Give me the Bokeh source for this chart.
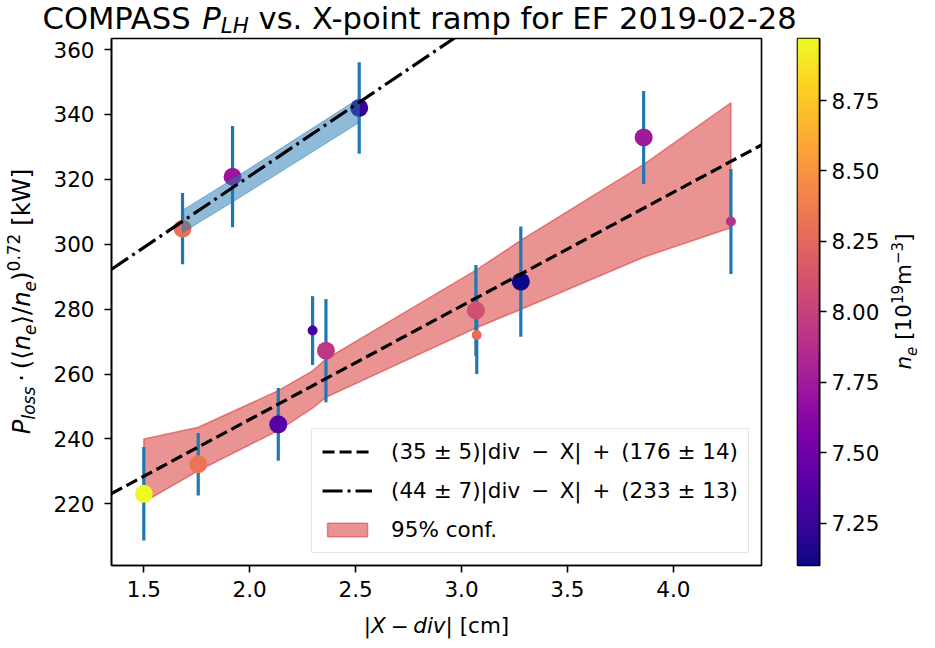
import numpy as np
from bokeh.plotting import figure
from bokeh.models import (ColumnDataSource, LinearColorMapper, Label, Legend, LegendItem,
                          FixedTicker, PrintfTickFormatter, LinearAxis, Range1d)
from bokeh.palettes import Plasma256
from bokeh.layouts import row, column
from bokeh.embed import file_html
from bokeh.resources import INLINE

# ---------------- data ----------------
x_dist = [1.500, 1.683, 1.757, 1.919, 2.135, 2.297, 2.360, 2.517, 3.068, 3.072, 3.280, 3.860, 4.272]
p_loss = [223.1, 304.8, 232.2, 320.8, 244.5, 273.4, 267.2, 342.0, 279.6, 272.0, 288.5, 332.9, 307.0]
p_err = [14.4, 11.0, 9.6, 15.6, 11.2, 10.6, 15.9, 14.1, 14.0, 12.0, 17.0, 14.3, 16.2]
n_e = [8.97, 8.30, 8.32, 7.72, 7.38, 7.31, 7.94, 7.23, 8.09, 8.28, 7.10, 7.75, 7.89]
small_marker = [False, False, False, False, False, True, False, False, False, True, False, False, True]

fit_lo = (35.0, 176.0)   # slope, intercept
fit_hi = (44.0, 233.0)
EN = "\u2002"
label_lo = "(35 ± 5)|div" + EN + "−" + EN + "X|" + EN + "+" + EN + "(176 ± 14)"
label_hi = "(44 ± 7)|div" + EN + "−" + EN + "X|" + EN + "+" + EN + "(233 ± 13)"
label_conf = "95% conf."

band_lo_x = [1.500, 1.757, 2.135, 2.297, 2.360, 3.068, 3.280, 3.860, 4.272]
band_lo_upper = [240.0, 243.6, 254.9, 261.0, 264.6, 292.0, 301.2, 324.6, 343.6]
band_lo_lower = [220.5, 230.2, 242.6, 249.5, 252.8, 274.2, 279.9, 296.0, 305.1]
band_hi_x = [1.683, 1.919, 2.517]
band_hi_upper = [310.5, 320.0, 345.0]
band_hi_lower = [303.6, 313.0, 337.5]

x_ticks = [1.5, 2.0, 2.5, 3.0, 3.5, 4.0]
y_ticks = [220, 240, 260, 280, 300, 320, 340, 360]
cb_ticks = [7.25, 7.50, 7.75, 8.00, 8.25, 8.50, 8.75]
x_lim = (1.3475, 4.4164)
y_lim = (201.0, 363.4)
ne_lim = (7.10, 8.97)

# ---------------- style ----------------
FONT = "DejaVu Sans"
TICK_PX = 21.5
YLAB_PX = 24.3
TITLE_PX = 30.6
BLUE = "#1f77b4"
RED = "#d62728"
ANCHOR_FIX = 0.35   # Label anchor vs. drawn baseline, in em

# DejaVu Sans advance widths (units / 2048)
ADV = {' ': 651, '(': 799, ')': 799, '[': 799, ']': 799, '|': 690, '/': 690, '·': 651,
       '−': 1716, '+': 1716, '±': 1716, '-': 739, '.': 651, '⟨': 799, '⟩': 799,
       'A': 1401, 'C': 1430, 'E': 1294, 'F': 1178, 'H': 1540, 'L': 1141, 'M': 1767,
       'O': 1612, 'P': 1235, 'S': 1300, 'W': 2025, 'X': 1405,
       'a': 1255, 'c': 1126, 'd': 1300, 'e': 1260, 'f': 721, 'i': 569, 'k': 1186,
       'l': 569, 'm': 1995, 'n': 1298, 'o': 1253, 'p': 1300, 'r': 842, 's': 1067,
       't': 803, 'v': 1212}
for d in "0123456789":
    ADV[d] = 1303


def tw(s):
    return sum(ADV.get(c, 1250) for c in s) / 2048.0


def text_panel(w, h):
    f = figure(width=w, height=h, x_range=Range1d(0, w), y_range=Range1d(0, h),
               output_backend="svg", toolbar_location=None,
               x_axis_location=None, y_axis_location=None, min_border=0)
    f.grid.visible = False
    f.outline_line_color = None
    f.border_fill_color = "white"
    f.background_fill_color = "white"
    return f


def add_run(fig, pieces, base, x0, y0, rotated=False):
    """pieces: (text, scale, italic, shift_em, gap_after_em); centred on (x0, y0),
    (x0, y0) being the baseline point in the panel's frame coordinates."""
    total = 0.0
    for t, sc, it, sh, gap in pieces:
        total += tw(t) * base * sc + gap * base
    pos = -total / 2.0
    for t, sc, it, sh, gap in pieces:
        fs = base * sc
        if t:
            up = sh * base + ANCHOR_FIX * fs
            if rotated:
                x, y = x0 - up, y0 + pos
            else:
                x, y = x0 + pos, y0 + up
            fig.add_layout(Label(x=x, y=y, x_units="screen", y_units="screen", text=t,
                                 angle=(np.pi / 2 if rotated else 0.0),
                                 text_font=FONT, text_font_size=f"{fs:.1f}px",
                                 text_font_style=("italic" if it else "normal"),
                                 text_align="left", text_baseline="alphabetic",
                                 text_color="black"))
        pos += tw(t) * fs + gap * base


mapper = LinearColorMapper(palette=Plasma256, low=ne_lim[0], high=ne_lim[1])

# screen layout (pixels)
TOP_H = 37           # title strip
BOT_H = 37           # x-label strip
MID_H = 648 - TOP_H - BOT_H
YL_W = 45            # y-label strip
MAIN_W = 735
CB_W = 102
CBL_W = 935 - YL_W - MAIN_W - CB_W
FR_L, FR_R, FR_T, FR_B = 111, 761, 38, 565   # frame in page pixels
frame_cx = (FR_L + FR_R) / 2.0
frame_cy = (37 + FR_B) / 2.0

# ---------------- main figure ----------------
p = figure(width=MAIN_W, height=MID_H, x_range=Range1d(*x_lim), y_range=Range1d(*y_lim),
           output_backend="svg", toolbar_location=None,
           min_border_left=FR_L - YL_W, min_border_right=YL_W + MAIN_W - FR_R,
           min_border_top=FR_T - TOP_H, min_border_bottom=TOP_H + MID_H - FR_B)
p.grid.visible = False
p.outline_line_color = "black"
p.outline_line_width = 1.6
p.background_fill_color = "white"
p.border_fill_color = "white"

for ax in (p.xaxis[0], p.yaxis[0]):
    ax.axis_line_width = 1.6
    ax.major_tick_line_width = 1.6
    ax.major_tick_out = 7
    ax.major_tick_in = 0
    ax.minor_tick_out = 0
    ax.minor_tick_in = 0
    ax.major_label_text_font = FONT
    ax.major_label_text_font_size = f"{TICK_PX}px"
    ax.major_label_text_color = "black"
p.xaxis.major_label_standoff = 8
p.yaxis.major_label_standoff = 10
p.xaxis.ticker = FixedTicker(ticks=x_ticks)
p.xaxis.formatter = PrintfTickFormatter(format="%.1f")
p.yaxis.ticker = FixedTicker(ticks=y_ticks)
p.yaxis.formatter = PrintfTickFormatter(format="%d")

# red confidence band (lower fit)
r_band_lo = p.patch(x=band_lo_x + band_lo_x[::-1], y=band_lo_upper + band_lo_lower[::-1],
                    fill_color=RED, fill_alpha=0.5, line_color=RED, line_alpha=0.5,
                    line_width=1.5)

src = ColumnDataSource(dict(
    x=x_dist, y=p_loss,
    lo=[v - e for v, e in zip(p_loss, p_err)],
    hi=[v + e for v, e in zip(p_loss, p_err)],
    ne=n_e,
    sz=[10 if s else 18 for s in small_marker],
))
p.segment(x0="x", y0="lo", x1="x", y1="hi", source=src, line_color=BLUE, line_width=3.2)
p.scatter("x", "y", size="sz", source=src, line_color=None,
          fill_color={"field": "ne", "transform": mapper})

# blue band (upper fit)
p.patch(x=band_hi_x + band_hi_x[::-1], y=band_hi_upper + band_hi_lower[::-1],
        fill_color=BLUE, fill_alpha=0.5, line_color=BLUE, line_alpha=0.5, line_width=1)

xs_line = [x_lim[0], x_lim[1]]
r_lo = p.line(xs_line, [fit_lo[0] * v + fit_lo[1] for v in xs_line],
              line_color="black", line_width=3.2, line_dash="12 5")
r_hi = p.line(xs_line, [fit_hi[0] * v + fit_hi[1] for v in xs_line],
              line_color="black", line_width=3.2, line_dash="20 5 3 5")

legend = Legend(items=[LegendItem(label=label_lo, renderers=[r_lo]),
                       LegendItem(label=label_hi, renderers=[r_hi]),
                       LegendItem(label=label_conf, renderers=[r_band_lo])],
                location="bottom_right")
legend.label_text_font = FONT
legend.label_text_font_size = f"{TICK_PX}px"
legend.label_text_color = "black"
legend.label_text_baseline = "middle"
legend.glyph_width = 50
legend.glyph_height = 17
legend.label_height = 20
legend.label_standoff = 19
legend.spacing = 14
legend.padding = 10
legend.margin = 12
legend.border_line_color = "#cccccc"
legend.border_line_width = 1.5
legend.background_fill_alpha = 0.8
p.add_layout(legend)

# ---------------- colorbar figure ----------------
CB_FR_L, CB_FR_R = 797, 822
cb = figure(width=CB_W, height=MID_H, x_range=Range1d(0, 1), y_range=Range1d(*ne_lim),
            output_backend="svg", toolbar_location=None,
            x_axis_location=None, y_axis_location=None,
            min_border_left=CB_FR_L - (YL_W + MAIN_W),
            min_border_right=(YL_W + MAIN_W + CB_W) - CB_FR_R,
            min_border_top=FR_T - TOP_H, min_border_bottom=TOP_H + MID_H - FR_B)
cb.grid.visible = False
cb.outline_line_color = "black"
cb.outline_line_width = 1.6
cb.border_fill_color = "white"
grad = np.linspace(ne_lim[0], ne_lim[1], 256).reshape(256, 1)
cb.image(image=[grad], x=0, y=ne_lim[0], dw=1, dh=ne_lim[1] - ne_lim[0], color_mapper=mapper)
cax = LinearAxis(ticker=FixedTicker(ticks=cb_ticks), formatter=PrintfTickFormatter(format="%.2f"))
cax.axis_line_width = 1.6
cax.major_tick_line_width = 1.6
cax.major_tick_out = 7
cax.major_tick_in = 0
cax.minor_tick_out = 0
cax.minor_tick_in = 0
cax.major_label_text_font = FONT
cax.major_label_text_font_size = f"{TICK_PX}px"
cax.major_label_text_color = "black"
cax.major_label_standoff = 5
cb.add_layout(cax, "right")

# ---------------- text strips ----------------
# title strip (its frame is the whole strip; y measured up from its bottom)
title_fig = text_panel(935, TOP_H)
add_run(title_fig, [("COMPASS", 1, False, 0, 0.318),
                    ("P", 1, True, 0, 0),
                    ("LH", 0.7, True, -0.12, 0.318),
                    ("vs. X-point ramp for EF 2019-02-28", 1, False, 0, 0)],
        TITLE_PX, frame_cx - 16, TOP_H - 28.6)

xlab_fig = text_panel(935, BOT_H)
add_run(xlab_fig, [("|", 1, False, 0, 0),
                   ("X", 1, True, 0, 0.22),
                   ("−", 1, False, 0, 0.22),
                   ("div", 1, True, 0, 0),
                   ("|", 1, False, 0, 0.318),
                   ("[cm]", 1, False, 0, 0)],
        TICK_PX, frame_cx, 648 - 633)

# strips in the middle row share the main frame's vertical extent
ylab_fig = text_panel(YL_W, MID_H)
add_run(ylab_fig, [("P", 1, True, 0, 0),
                   ("loss", 0.7, True, -0.2, 0.2),
                   ("·", 1, False, 0, 0.2),
                   ("(⟨", 1, False, 0, 0),
                   ("n", 1, True, 0, 0),
                   ("e", 0.7, True, -0.2, 0),
                   ("⟩/", 1, False, 0, 0),
                   ("n", 1, True, 0, 0),
                   ("e", 0.7, True, -0.2, 0),
                   (")", 1, False, 0, 0),
                   ("0.72", 0.7, False, 0.45, 0.318),
                   ("[kW]", 1, False, 0, 0)],
        YLAB_PX, 30, FR_B - frame_cy, rotated=True)

cbl_fig = text_panel(CBL_W, MID_H)
add_run(cbl_fig, [("n", 1, True, 0, 0),
                  ("e", 0.7, True, -0.2, 0.318),
                  ("[10", 1, False, 0, 0),
                  ("19", 0.7, False, 0.42, 0),
                  ("m", 1, False, 0, 0),
                  ("−3", 0.7, False, 0.42, 0),
                  ("]", 1, False, 0, 0)],
        TICK_PX, 911 - (YL_W + MAIN_W + CB_W), FR_B - frame_cy, rotated=True)

layout = column(title_fig, row(ylab_fig, p, cb, cbl_fig), xlab_fig)
open("out.html", "w").write(file_html(layout, INLINE))
